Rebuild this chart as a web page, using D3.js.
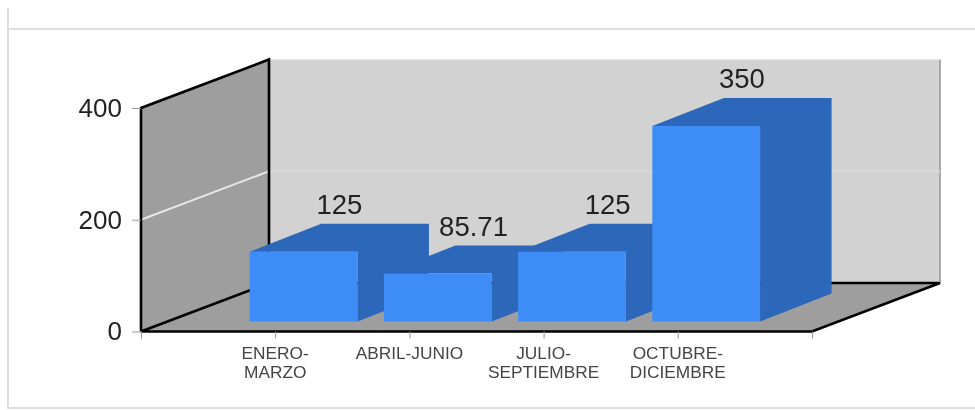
<!DOCTYPE html>
<html>
<head>
<meta charset="utf-8">
<script src="https://cdn.jsdelivr.net/npm/d3@7"></script>
<style>
    body { margin: 0; background: #fff; }
    svg { display: block; filter: blur(0.7px); font-family: "Liberation Sans", Arial, sans-serif; }
</style>
</head>
<body>
<svg width="975" height="410"></svg>
<script>
// Chart values.
var categories = [["ENERO-", "MARZO"], ["ABRIL-JUNIO"], ["JULIO-", "SEPTIEMBRE"], ["OCTUBRE-", "DICIEMBRE"]];
var values = [125, 85.71, 125, 350];
var valueLabels = ["125", "85.71", "125", "350"];
var yTicks = [0, 200, 400];

var svg = d3.select("svg");

var yScale = d3.scaleLinear().domain([0, 400]).range([331.5, 108]);
var xScale = d3.scaleLinear().domain([0, 5]).range([141, 812]);

// Offset from the front of the box to the back wall, and for the bars.
var wallDx = 128, wallDy = -48.5;
var barDx = 71.5, barDy = -28;
var barLift = 10;
var barWidth = 0.803; // in category steps
var barShift = 0.19;

function poly(points) {
    return "M" + points.map(function (p) { return p.join(","); }).join("L") + "Z";
}

// Page frame.
var frame = svg.append("g").attr("stroke", "#dedede").attr("stroke-width", 2).attr("fill", "none");
frame.append("path").attr("d", "M8,8V408H975");
frame.append("path").attr("d", "M8,29H975");

var x0 = xScale(0), x1 = xScale(5), y0 = yScale(0), yTop = yScale(400);

// Back wall.
svg.append("rect")
    .attr("x", x0 + wallDx).attr("y", yTop + wallDy)
    .attr("width", x1 - x0).attr("height", y0 - yTop)
    .attr("fill", "#d2d2d2");
svg.append("line")
    .attr("x1", x1 + wallDx).attr("x2", x1 + wallDx)
    .attr("y1", yTop + wallDy).attr("y2", y0 + wallDy)
    .attr("stroke", "#a8a8a8").attr("stroke-width", 2);

// Left wall and floor.
svg.append("path")
    .attr("d", poly([[x0, yTop], [x0 + wallDx, yTop + wallDy], [x0 + wallDx, y0 + wallDy], [x0, y0]]))
    .attr("fill", "#9e9e9e");
svg.append("path")
    .attr("d", poly([[x0, y0], [x0 + wallDx, y0 + wallDy], [x1 + wallDx, y0 + wallDy], [x1, y0]]))
    .attr("fill", "#9e9e9e");

// Gridlines.
var grid = yTicks.filter(function (d) { return d > 0 && d < 400; });
svg.selectAll(".gridSide").data(grid).enter().append("line")
    .attr("x1", x0).attr("y1", function (d) { return yScale(d); })
    .attr("x2", x0 + wallDx).attr("y2", function (d) { return yScale(d) + wallDy; })
    .attr("stroke", "#e6e6e6").attr("stroke-width", 2);
svg.selectAll(".gridBack").data(grid).enter().append("line")
    .attr("x1", x0 + wallDx).attr("y1", function (d) { return yScale(d) + wallDy; })
    .attr("x2", x1 + wallDx).attr("y2", function (d) { return yScale(d) + wallDy; })
    .attr("stroke", "#d9d9d9").attr("stroke-width", 2);

// Black edges of the box.
svg.append("path")
    .attr("d", "M" + x0 + "," + y0 + "V" + yTop + "L" + (x0 + wallDx) + "," + (yTop + wallDy) +
        "V" + (y0 + wallDy) + "L" + x0 + "," + y0 + "H" + x1 + "L" + (x1 + wallDx) + "," + (y0 + wallDy) +
        "H" + (x0 + wallDx))
    .attr("fill", "none").attr("stroke", "#000").attr("stroke-width", 2.6);

// Axes.
var yAxis = svg.append("g").attr("transform", "translate(" + x0 + ",0)")
    .call(d3.axisLeft(yScale).tickValues(yTicks).tickSize(9).tickPadding(10));
yAxis.select(".domain").remove();
yAxis.selectAll("line").attr("stroke", "#999");
yAxis.selectAll("text").attr("font-size", 26).attr("font-family", "inherit").attr("fill", "#222");

var xAxis = svg.append("g").attr("transform", "translate(0," + y0 + ")")
    .call(d3.axisBottom(xScale).ticks(5).tickSize(7).tickFormat(""));
xAxis.select(".domain").remove();
xAxis.selectAll("line").attr("stroke", "#999");

// Category labels.
var catText = svg.selectAll(".cat").data(categories).enter().append("text")
    .attr("class", "cat")
    .attr("text-anchor", "middle")
    .attr("font-size", 17.3)
    .attr("fill", "#444");
catText.selectAll("tspan").data(function (d, i) {
    return d.map(function (line) { return { line: line, i: i }; });
}).enter().append("tspan")
    .attr("x", function (d) { return xScale(d.i + 1); })
    .attr("y", function (d, j) { return 359 + j * 19; })
    .text(function (d) { return d.line; });

// Bars, drawn left to right so the next front covers the previous side.
function barLeft(i) { return xScale(i + 1 - barShift); }
function barRight(i) { return xScale(i + 1 - barShift + barWidth); }
function barBottom() { return yScale(0) - barLift; }
function barTop(d) { return yScale(d) - barLift; }

var bars = svg.selectAll(".bar").data(values).enter().append("g").attr("class", "bar");

bars.append("path")
    .attr("fill", "#2d67b9")
    .attr("d", function (d, i) {
        return poly([[barLeft(i), barTop(d)], [barLeft(i) + barDx, barTop(d) + barDy],
            [barRight(i) + barDx, barTop(d) + barDy], [barRight(i) + barDx, barBottom() + barDy],
            [barRight(i), barBottom()], [barRight(i), barTop(d)]]);
    });
bars.append("rect")
    .attr("fill", "#3e8cf6")
    .attr("x", function (d, i) { return barLeft(i); })
    .attr("y", function (d) { return barTop(d); })
    .attr("width", function (d, i) { return barRight(i) - barLeft(i); })
    .attr("height", function (d) { return barBottom() - barTop(d); });

// Value labels.
svg.selectAll(".val").data(values).enter().append("text")
    .attr("class", "val")
    .attr("text-anchor", "middle")
    .attr("font-size", 27.5)
    .attr("fill", "#222")
    .attr("x", function (d, i) { return (barLeft(i) + barRight(i)) / 2 + barDx / 2; })
    .attr("y", function (d) { return barTop(d) + barDy - 9.5; })
    .text(function (d, i) { return valueLabels[i]; });
</script>
</body>
</html>
